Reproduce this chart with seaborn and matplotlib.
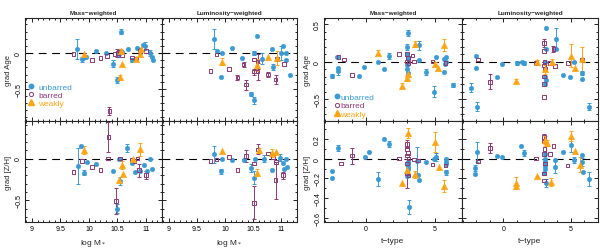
import numpy as np
import matplotlib
matplotlib.use("Agg")
import matplotlib.pyplot as plt
from matplotlib.ticker import MultipleLocator, FuncFormatter
from matplotlib.lines import Line2D
import seaborn as sns

# ---- data: (x, gradient, error); error 0 = no bar ----
# stellar mass panels
mass_agemw_unb = [(9.79, 0.06, 0.14), (9.87, -0.09, 0.03), (9.90, -0.07, 0), (9.95, -0.05, 0), (10.12, 0.03, 0),
                  (10.30, 0.00, 0), (10.43, -0.15, 0.05), (10.50, -0.38, 0.04), (10.56, 0.30, 0.04), (10.58, 0.02, 0),
                  (10.69, 0.06, 0), (10.75, -0.10, 0.03), (10.84, 0.07, 0), (10.98, 0.10, 0.06), (10.95, 0.11, 0),
                  (11.07, 0.00, 0.04), (11.10, -0.05, 0), (11.12, -0.10, 0), (10.53, -0.02, 0.03)]
mass_agemw_bar = [(9.73, -0.01, 0), (10.05, -0.10, 0), (10.20, -0.07, 0), (10.32, -0.04, 0), (10.36, -0.81, 0.05),
                  (10.50, 0.00, 0.05), (10.55, 0.02, 0), (10.58, -0.03, 0), (10.76, -0.06, 0), (10.82, -0.08, 0),
                  (10.90, 0.03, 0.04), (11.00, 0.03, 0), (10.45, -0.01, 0)]
mass_agemw_weak = [(9.92, -0.02, 0), (10.55, -0.34, 0.03), (10.58, -0.15, 0), (10.57, 0.03, 0.03),
                   (10.83, -0.08, 0.03), (10.92, 0.06, 0), (10.90, -0.02, 0)]

mass_agelw_unb = [(9.80, 0.19, 0.14), (9.86, 0.03, 0), (9.93, -0.34, 0), (9.95, 0.00, 0), (10.12, 0.07, 0),
                  (10.31, -0.07, 0), (10.46, -0.57, 0.03), (10.52, -0.66, 0.05), (10.56, 0.24, 0), (10.52, 0.00, 0.03),
                  (10.65, -0.08, 0.08), (10.83, 0.05, 0), (10.85, -0.20, 0.04), (10.99, 0.00, 0.10), (11.03, 0.10, 0),
                  (11.08, 0.00, 0), (11.08, -0.10, 0), (11.15, -0.30, 0)]
mass_agelw_bar = [(9.74, -0.25, 0), (9.85, -0.02, 0), (10.07, -0.22, 0), (10.22, -0.34, 0.03), (10.33, -0.16, 0.03),
                  (10.37, -0.44, 0.07), (10.51, -0.26, 0.04), (10.51, -0.09, 0), (10.58, -0.12, 0.10),
                  (10.58, -0.26, 0.12), (10.77, -0.30, 0.04), (10.90, -0.37, 0.06), (10.92, -0.08, 0), (11.05, -0.15, 0)]
mass_agelw_weak = [(9.95, -0.12, 0.05), (10.57, -0.17, 0.08), (10.77, -0.06, 0), (10.92, -0.07, 0.10)]

mass_zmw_unb = [(9.80, -0.09, 0.22), (9.86, 0.15, 0), (9.91, -0.17, 0.03), (9.97, -0.04, 0), (10.12, -0.06, 0),
                (10.43, -0.15, 0), (10.50, -0.60, 0.05), (10.53, 0.00, 0), (10.55, -0.27, 0.05), (10.66, 0.13, 0.05),
                (10.75, -0.05, 0), (10.80, -0.16, 0), (10.90, -0.15, 0), (10.97, -0.08, 0), (11.07, 0.00, 0),
                (11.02, -0.15, 0), (11.10, -0.12, 0)]
mass_zmw_bar = [(9.73, -0.16, 0), (9.88, -0.03, 0), (10.05, -0.10, 0), (10.20, -0.14, 0), (10.33, 0.00, 0),
                (10.34, 0.26, 0.18), (10.48, -0.51, 0.16), (10.55, 0.00, 0), (10.75, -0.01, 0), (10.80, -0.03, 0),
                (10.88, -0.14, 0.08), (11.00, -0.20, 0.05), (10.85, 0.00, 0)]
mass_zmw_weak = [(9.92, 0.10, 0.05), (10.58, -0.08, 0.05), (10.60, -0.18, 0), (10.52, -0.26, 0),
                 (10.90, 0.11, 0.08), (10.77, 0.00, 0)]

mass_zlw_unb = [(9.80, 0.05, 0.10), (9.93, -0.15, 0.03), (9.95, 0.00, 0), (10.12, -0.02, 0), (10.33, -0.02, 0),
                (10.47, -0.11, 0.05), (10.52, -0.23, 0.08), (10.53, 0.00, 0), (10.70, 0.00, 0.04), (10.83, -0.14, 0),
                (10.98, 0.01, 0.04), (11.03, -0.05, 0), (11.08, 0.00, 0), (11.10, -0.10, 0), (11.05, -0.12, 0)]
mass_zlw_bar = [(9.74, -0.03, 0), (9.85, -0.01, 0), (10.07, 0.02, 0), (10.22, -0.14, 0), (10.37, 0.03, 0.07),
                (10.51, -0.53, 0.20), (10.51, -0.06, 0), (10.58, 0.11, 0.06), (10.77, 0.06, 0), (10.90, -0.26, 0.22),
                (10.91, -0.04, 0), (11.03, -0.20, 0.04), (10.85, 0.02, 0)]
mass_zlw_weak = [(9.95, 0.09, 0), (10.60, 0.10, 0.03), (10.57, -0.17, 0.04), (10.83, 0.07, 0.05), (10.90, 0.08, 0)]

# t-type panels
tt_agemw_unb = [(-2.45, -0.19, 0.03), (-2.1, 0.06, 0), (-2.05, -0.09, 0), (-2.0, -0.13, 0.05), (-0.5, -0.19, 0),
                (-0.15, -0.07, 0), (0.9, 0.00, 0), (1.3, -0.10, 0), (1.65, 0.08, 0.04), (3.1, 0.38, 0.04),
                (3.0, 0.20, 0.04), (3.0, 0.10, 0), (3.05, 0.05, 0), (3.0, -0.05, 0), (3.0, -0.10, 0),
                (3.1, -0.15, 0), (3.85, 0.02, 0), (3.9, 0.22, 0.06), (4.35, -0.14, 0.04), (4.95, -0.40, 0.07),
                (5.1, 0.06, 0), (5.7, 0.04, 0), (5.8, 0.06, 0), (5.8, 0.00, 0), (5.75, -0.03, 0), (5.7, -0.14, 0),
                (6.35, -0.31, 0.03)]
tt_agemw_bar = [(-2.0, 0.06, 0), (-1.6, 0.03, 0), (-1.0, -0.18, 0), (2.4, 0.10, 0), (3.0, 0.10, 0), (3.05, 0.05, 0),
                (3.0, 0.00, 0), (3.1, -0.02, 0), (3.5, 0.00, 0), (3.4, 0.08, 0), (4.85, 0.00, 0), (5.8, -0.02, 0)]
tt_agemw_weak = [(0.9, 0.12, 0.03), (2.6, -0.32, 0.03), (3.0, -0.22, 0.04), (3.1, -0.17, 0.03), (3.6, 0.24, 0.04),
                 (5.0, -0.03, 0.03), (5.25, -0.08, 0), (5.7, 0.22, 0.08)]

tt_agelw_unb = [(-2.4, -0.35, 0.06), (-2.05, 0.08, 0), (-2.0, -0.08, 0), (-1.95, -0.60, 0.06), (-0.5, -0.20, 0),
                (-0.1, -0.03, 0), (1.0, -0.02, 0.03), (1.35, 0.00, 0), (1.55, -0.02, 0.03), (3.15, 0.45, 0),
                (3.15, 0.17, 0), (3.1, 0.00, 0), (3.1, -0.10, 0), (3.1, -0.20, 0), (3.15, -0.25, 0), (3.1, -0.30, 0),
                (3.9, 0.30, 0.15), (3.9, 0.17, 0), (4.4, -0.18, 0), (4.9, -0.20, 0), (5.2, 0.00, 0),
                (5.8, -0.15, 0.03), (5.8, -0.23, 0), (6.3, -0.60, 0.05)]
tt_agelw_bar = [(-1.85, 0.03, 0), (-1.0, -0.27, 0.10), (2.4, -0.02, 0), (3.0, 0.25, 0.05), (3.0, 0.14, 0),
                (3.05, 0.00, 0), (3.0, -0.05, 0), (3.1, -0.10, 0), (3.0, -0.20, 0), (3.0, -0.30, 0), (3.0, -0.47, 0),
                (3.7, 0.17, 0.04), (3.45, -0.02, 0), (3.8, -0.06, 0), (4.8, -0.02, 0), (5.8, 0.03, 0)]
tt_agelw_weak = [(0.95, -0.26, 0.03), (2.5, -0.01, 0.03), (3.1, -0.10, 0.06), (3.6, 0.00, 0.03), (5.0, 0.08, 0.15),
                 (5.3, -0.08, 0), (5.8, 0.03, 0.17)]

tt_zmw_unb = [(-2.5, -0.12, 0), (-2.5, -0.20, 0), (-2.0, 0.11, 0.03), (0.25, 0.07, 0), (-0.1, 0.02, 0),
              (0.9, -0.21, 0.07), (1.35, 0.20, 0), (1.65, 0.15, 0.03), (3.1, -0.03, 0), (3.1, -0.05, 0),
              (3.05, -0.08, 0), (3.1, -0.10, 0), (3.0, -0.15, 0), (3.0, -0.18, 0), (3.15, -0.49, 0.07),
              (3.85, -0.22, 0), (3.8, -0.17, 0), (3.75, -0.02, 0.14), (4.35, -0.03, 0), (4.95, 0.00, 0),
              (5.1, 0.02, 0.04), (5.8, 0.00, 0), (5.85, -0.03, 0), (5.8, -0.05, 0), (5.85, -0.14, 0.03)]
tt_zmw_bar = [(-1.8, -0.05, 0), (-1.0, 0.03, 0.08), (2.4, 0.00, 0), (3.0, 0.15, 0.04), (3.0, 0.10, 0),
              (3.05, 0.06, 0), (3.0, 0.03, 0), (3.1, 0.00, 0), (3.0, -0.05, 0), (3.0, -0.15, 0.15),
              (3.1, -0.17, 0), (3.5, -0.01, 0), (3.8, -0.02, 0), (4.85, -0.06, 0), (5.8, -0.07, 0)]
tt_zmw_weak = [(2.6, -0.25, 0), (3.1, 0.26, 0.05), (3.0, -0.11, 0.04), (3.6, -0.16, 0.04), (5.0, 0.17, 0.10),
               (5.3, -0.08, 0), (5.7, -0.28, 0.06)]

tt_zlw_unb = [(-2.1, -0.09, 0.03), (-2.1, -0.16, 0), (-1.95, 0.07, 0.10), (-0.5, 0.03, 0), (-0.1, 0.02, 0),
              (1.3, 0.13, 0), (1.55, 0.06, 0.03), (3.1, 0.05, 0), (3.1, 0.00, 0), (3.05, -0.03, 0),
              (3.1, -0.07, 0), (3.1, -0.10, 0), (3.0, -0.15, 0), (3.15, -0.25, 0.04), (3.8, -0.01, 0),
              (3.8, -0.08, 0.07), (4.4, 0.07, 0), (5.0, 0.14, 0.07), (5.2, -0.01, 0.03), (5.85, 0.04, 0),
              (5.85, -0.03, 0.04), (5.9, -0.13, 0), (6.3, -0.21, 0.07)]
tt_zlw_bar = [(-1.85, -0.03, 0), (-1.0, 0.11, 0.05), (2.4, 0.00, 0), (3.0, 0.22, 0.03), (3.0, 0.18, 0),
              (3.05, 0.10, 0), (3.0, 0.05, 0), (3.1, -0.05, 0), (3.0, -0.15, 0), (3.0, -0.22, 0), (3.7, 0.13, 0),
              (3.45, 0.05, 0), (4.75, -0.07, 0)]
tt_zlw_weak = [(0.95, -0.25, 0.06), (0.95, -0.28, 0), (2.5, -0.18, 0), (3.1, 0.19, 0.04), (3.2, 0.16, 0.03),
               (3.5, -0.24, 0.04), (5.0, 0.23, 0.05), (5.3, 0.08, 0), (5.7, -0.06, 0.08)]

groups = ["unbarred", "barred", "weakly"]
colors = {"unbarred": "#3A9AD4", "barred": "#8C3A78", "weakly": "#FFA514"}

sns.set_style("ticks")
plt.rcParams["font.family"] = ["Liberation Sans", "DejaVu Sans"]
plt.rcParams["axes.linewidth"] = 0.8


def draw(ax, pts, group):
    x, y, e = np.array(pts, dtype=float).T
    c = colors[group]
    m = e > 0
    ax.errorbar(x[m], y[m], yerr=e[m], fmt="none", ecolor=c, elinewidth=0.7,
                capsize=1.5, capthick=0.7, zorder=2)
    if group == "unbarred":
        sns.scatterplot(x=x, y=y, ax=ax, color=c, marker="o", s=11, edgecolor=c, linewidth=0.3, zorder=3)
    elif group == "barred":
        sns.scatterplot(x=x, y=y, ax=ax, marker="s", s=7, facecolors="none", edgecolor=c, linewidth=0.7, zorder=3)
    else:
        sns.scatterplot(x=x, y=y, ax=ax, color=c, marker="^", s=22, edgecolor=c, linewidth=0.3, zorder=4)


fmt = FuncFormatter(lambda v, _: f"{v:g}".replace("-", "\u2212"))

fig = plt.figure(figsize=(6.0, 2.51), dpi=100)
W, H = 600.0, 251.0
cols = [(25, 137), (162, 135), (324, 138), (462, 136)]
rows = [(19, 103), (122, 101)]

panels = [
    # (row, col, data, ylim)
    (0, 0, [mass_agemw_unb, mass_agemw_bar, mass_agemw_weak]),
    (0, 1, [mass_agelw_unb, mass_agelw_bar, mass_agelw_weak]),
    (1, 0, [mass_zmw_unb, mass_zmw_bar, mass_zmw_weak]),
    (1, 1, [mass_zlw_unb, mass_zlw_bar, mass_zlw_weak]),
    (0, 2, [tt_agemw_unb, tt_agemw_bar, tt_agemw_weak]),
    (0, 3, [tt_agelw_unb, tt_agelw_bar, tt_agelw_weak]),
    (1, 2, [tt_zmw_unb, tt_zmw_bar, tt_zmw_weak]),
    (1, 3, [tt_zlw_unb, tt_zlw_bar, tt_zlw_weak]),
]

for r, cidx, sets in panels:
    x0, w = cols[cidx]
    y0, h = rows[r]
    ax = fig.add_axes([x0 / W, 1 - (y0 + h) / H, w / W, h / H])
    for pts, g in zip(sets, groups):
        draw(ax, pts, g)
    ax.axhline(0, color="k", lw=0.8, ls=(0, (7, 5)), zorder=1)

    mass = cidx < 2
    if mass:
        ax.set_xlim(8.88, 11.28)
        ax.xaxis.set_major_locator(MultipleLocator(0.5))
        ax.xaxis.set_minor_locator(MultipleLocator(0.1))
    else:
        ax.set_xlim(-3.05, 7.0)
        ax.xaxis.set_major_locator(MultipleLocator(5))
        ax.xaxis.set_minor_locator(MultipleLocator(1))

    if r == 0:
        ax.set_ylim((-0.95, 0.49) if mass else (-0.79, 0.58))
        ax.yaxis.set_major_locator(MultipleLocator(0.5))
        ax.yaxis.set_minor_locator(MultipleLocator(0.1))
    else:
        if mass:
            ax.set_ylim(-0.76, 0.45)
            ax.yaxis.set_major_locator(MultipleLocator(0.5))
        else:
            ax.set_ylim(-0.64, 0.38)
            ax.yaxis.set_major_locator(MultipleLocator(0.2))
        ax.yaxis.set_minor_locator(MultipleLocator(0.1))

    ax.tick_params(which="both", direction="in", top=True, right=True, width=0.6,
                   labelsize=5, pad=2, colors="k")
    ax.tick_params(which="major", length=3.2)
    ax.tick_params(which="minor", length=1.6)
    ax.xaxis.set_major_formatter(fmt)
    ax.yaxis.set_major_formatter(fmt)
    ax.set_xlabel("")
    ax.set_ylabel("")

    if r == 0:
        ax.tick_params(labelbottom=False)
        ax.set_title("Mass\u2212weighted" if cidx in (0, 2) else "Luminosity\u2212weighted",
                     fontsize=4.6, fontweight="bold", pad=3)
    else:
        ax.set_xlabel("log M$_*$" if mass else "t\u2212type", fontsize=6, labelpad=4)

    if cidx in (0, 2):
        ax.set_ylabel("grad Age" if r == 0 else "grad [Z/H]", fontsize=5.5, labelpad=2)
        for lab in ax.get_yticklabels():
            lab.set_rotation(90)
            lab.set_va("center")
    else:
        ax.tick_params(labelleft=False)

    if r == 0 and cidx in (0, 2):
        handles = [
            Line2D([], [], ls="none", marker="o", ms=3.2, color=colors["unbarred"]),
            Line2D([], [], ls="none", marker="o", ms=3.0, mfc="none", mec=colors["barred"], mew=0.7),
            Line2D([], [], ls="none", marker="^", ms=4.5, color=colors["weakly"]),
        ]
        if cidx == 0:
            loc_xy, tpad = (0.0, 0.1), 0.6
        else:
            loc_xy, tpad = (0.05, 0.0), 0.1
        ax.legend(handles, groups, loc="lower left", bbox_to_anchor=loc_xy, frameon=False,
                  fontsize=6, handlelength=0.6, handletextpad=tpad, labelspacing=0.05,
                  borderpad=0.2, borderaxespad=0.2,
                  labelcolor=[colors[g] for g in groups])

fig.savefig("out.png", dpi=100)
